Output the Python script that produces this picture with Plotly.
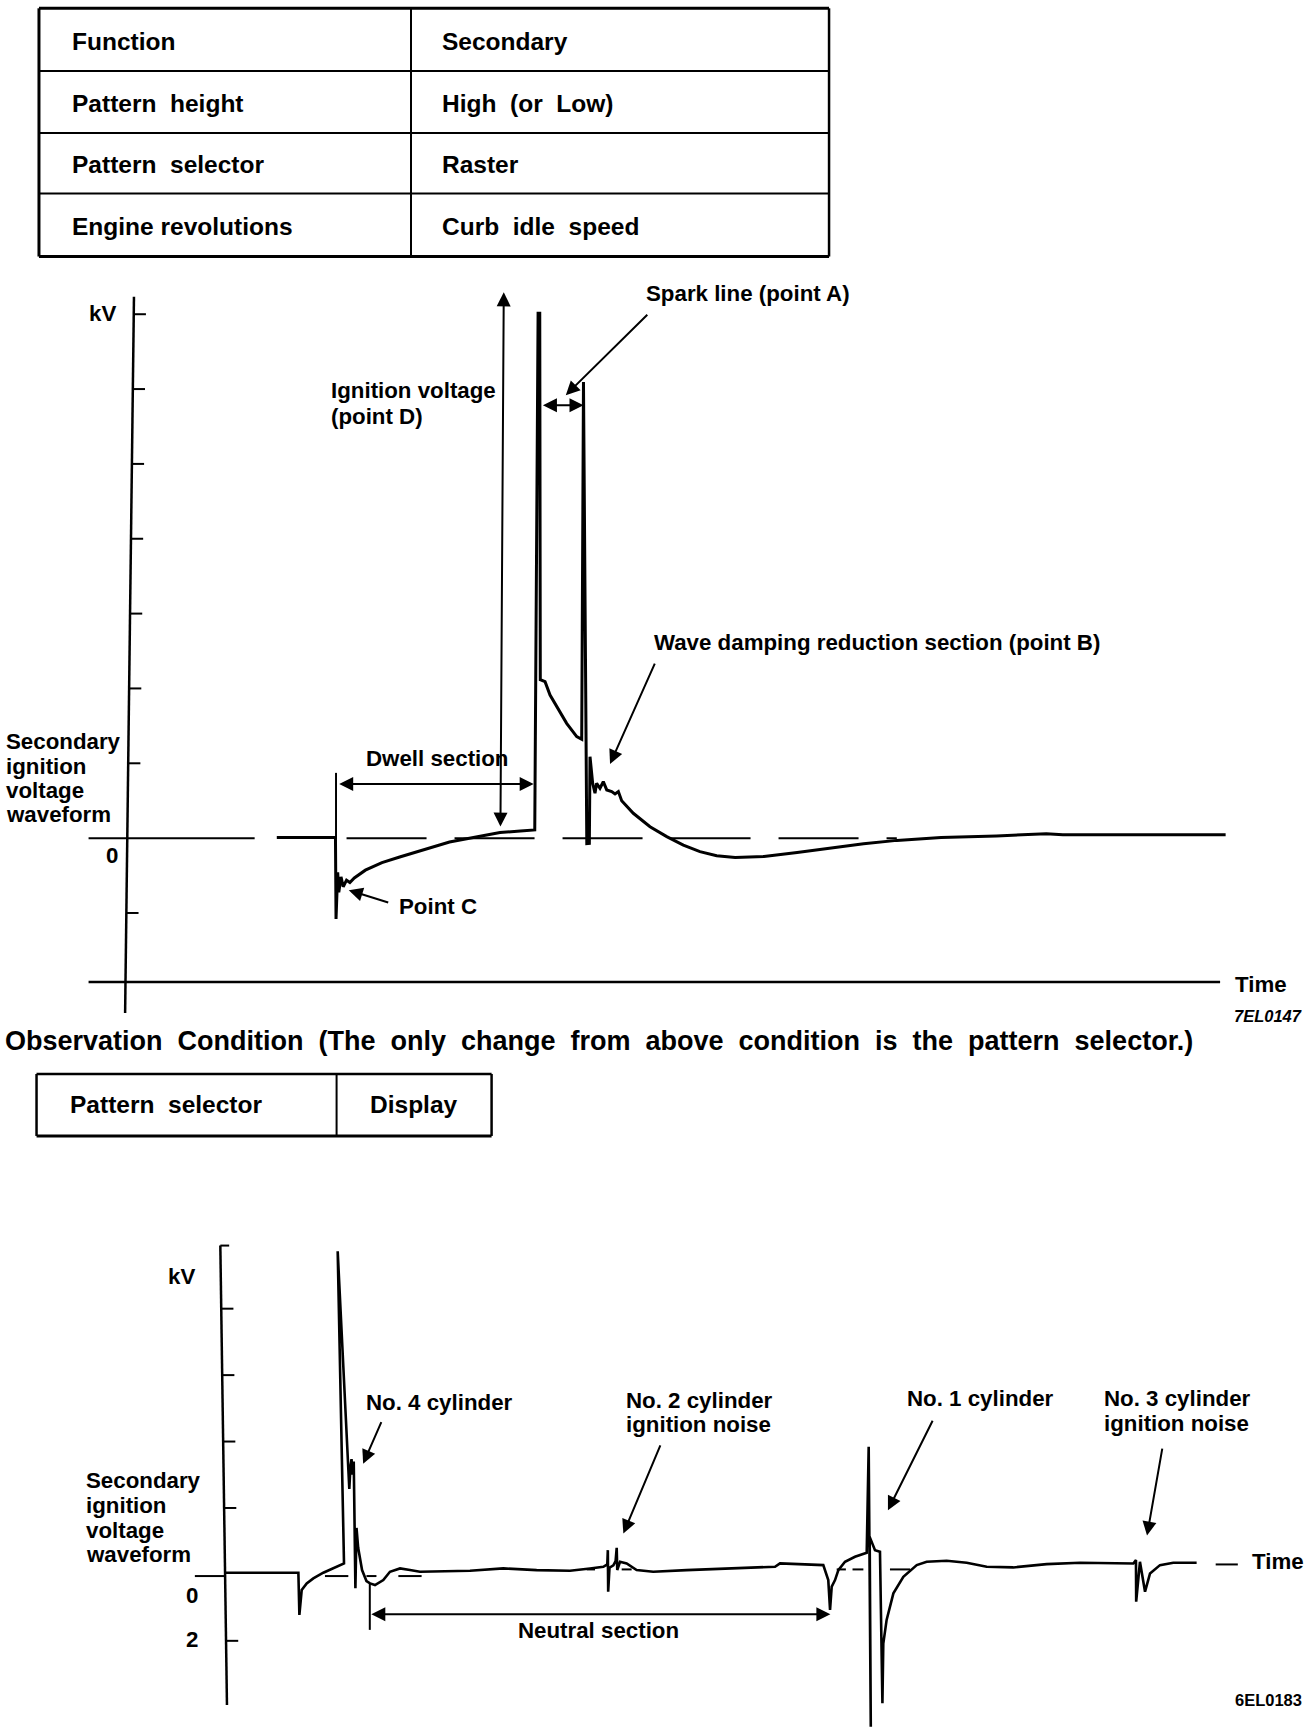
import plotly.graph_objects as go

W, H = 1312, 1736
K = W / 1185.0          # reference sheet units -> output px
SH = H / K              # sheet height in sheet units

# ---------------- data ----------------
cond_items = ["Function", "Pattern\u00a0 height", "Pattern\u00a0 selector", "Engine revolutions"]
cond_settings = ["Secondary", "High\u00a0 (or\u00a0 Low)", "Raster", "Curb\u00a0 idle\u00a0 speed"]
change_items = ["Pattern\u00a0 selector"]
change_settings = ["Display"]

# Raster pattern (secondary ignition voltage), time in ms, voltage in kV
raster_t = [13.0, 18.3, 18.35, 18.5, 18.6, 18.8, 19.0, 19.3, 19.6, 20.0, 21.0, 22.5, 24.1, 26.0,
            28.6, 31.0, 33.16, 35.0, 36.3, 36.6, 36.75, 36.8, 37.23, 37.68, 38.28, 39.18, 40.09,
            40.54, 40.7, 41.0, 41.23, 41.29, 41.53, 41.74, 41.89, 42.19, 42.49, 42.8, 43.25,
            43.55, 43.85, 44.15, 45.2, 46.71, 48.22, 49.72, 51.22, 52.73, 54.4, 57.0, 60.0, 63.0,
            66.0, 69.0, 73.0, 78.0, 82.5, 84.0, 98.7]
raster_kv = [0.05, 0.05, -5.4, -2.29, -3.62, -2.59, -3.25, -2.81, -2.96, -2.66, -2.14, -1.63,
             -1.26, -0.85, -0.26, 0.07, 0.37, 0.48, 0.55, 35.06, 35.06, 10.58, 10.45, 9.56, 8.78,
             7.67, 6.78, 6.60, 30.47, -0.37, -0.35, 5.44, 3.66, 3.0, 3.66, 3.33, 3.77, 3.22,
             3.11, 2.95, 3.11, 2.5, 1.66, 0.76, 0.1, -0.46, -0.9, -1.18, -1.29, -1.22, -0.96,
             -0.67, -0.37, -0.15, 0.04, 0.15, 0.3, 0.22, 0.22]
raster_tick_kv = [-5, 5, 10, 15, 20, 25, 30, 35]

# Display pattern (all cylinders), time in ms, voltage in kV
display_t = [0, 6.65, 6.74, 6.95, 7.4, 8.0, 8.9, 9.8, 10.77, 10.2, 11.16, 11.25, 11.35, 11.45,
             11.55, 11.65, 11.8, 11.9, 12.05, 12.4, 12.8, 13.12, 13.57, 14.32, 14.92, 15.83,
             16.73, 17.63, 22.15, 25.16, 28.17, 31.18, 32.99, 34.19, 34.55, 34.6, 34.63, 34.75,
             35.1, 35.3, 35.4, 35.45, 35.7, 36.3, 37.2, 38.7, 41.7, 45.7, 49.7, 50.15, 54.06,
             54.51, 54.67, 54.82, 55.12, 55.42, 56.02, 56.92, 57.98, 58.16, 58.35, 58.25, 58.73,
             59.18, 59.4, 59.48, 59.78, 60.39, 61.29, 62.5, 63.4, 65.2, 67.01, 68.82, 71.22,
             74.24, 77.25, 80.26, 82.06, 82.3, 82.32, 82.66, 83.12, 83.57, 84.47, 85.67, 87.78]
display_kv = [0.05, 0.05, -1.22, -0.47, -0.27, -0.12, 0.05, 0.18, 0.33, 9.73, 3.34, 2.57, 3.23,
              3.47, 3.0, 3.4, -0.42, 1.4, 0.8, 0.13, -0.2, -0.27, -0.32, -0.17, 0.08, 0.18,
              0.13, 0.08, 0.11, 0.18, 0.13, 0.11, 0.18, 0.23, 0.3, 0.73, -0.52, 0.2, 0.27, 0.4,
              0.8, 0.13, 0.38, 0.33, 0.13, 0.08, 0.13, 0.17, 0.23, 0.33, 0.28, -0.17, -1.07,
              -0.37, -0.17, 0.13, 0.38, 0.53, 0.65, 3.84, -4.59, 1.13, 0.73, 0.68, -3.88, -2.08,
              -1.37, -0.57, -0.07, 0.28, 0.38, 0.41, 0.35, 0.23, 0.21, 0.31, 0.35, 0.35, 0.33,
              0.43, -0.82, 0.38, -0.52, 0.03, 0.28, 0.35, 0.35]
display_tick_kv = [-2, 2, 4, 6, 8]
display_ticklabels_kv = [0, -2]
display_ticklabels = ["0", "2"]
# short zero-reference dashes on the display pattern (start ms, end ms, kV)
ref_dash_t0 = [9.05, 12.8, 15.68, 32.7, 35.85, 55.27, 56.7, 60.08, 89.5]
ref_dash_t1 = [11.16, 13.7, 17.78, 33.44, 36.75, 56.1, 57.68, 61.9, 91.5]
ref_dash_kv = [-0.05, -0.05, -0.05, 0.15, 0.15, 0.15, 0.15, 0.15, 0.3]

# ---------------- geometry (sheet units) ----------------
TOP_T0, TOP_PER_T, TOP_ZERO, TOP_PER_KV = 120.0, 10.0, 757.0, 13.52
BOT_T0, BOT_PER_T, BOT_ZERO, BOT_PER_KV = 203.0, 10.0, 1422.0, 30.0

LAB = "Liberation Sans"
BLACK = "black"

fig = go.Figure()


def line_trace(xs, ys, width=2.5, xa="x", ya="y", dash=None):
    ln = dict(color=BLACK, width=width)
    if dash:
        ln["dash"] = dash
    fig.add_trace(go.Scatter(x=xs, y=ys, mode="lines", line=ln, xaxis=xa, yaxis=ya,
                             hoverinfo="skip", showlegend=False))


# ---- top (raster) chart ----
ax_top_t = (0.1, -0.7)
ax_top_kv = ((TOP_ZERO - 268) / TOP_PER_KV, (TOP_ZERO - 915) / TOP_PER_KV)
line_trace(list(ax_top_t), list(ax_top_kv), 2.5)


def axis_t_at(kv, ta, kva):
    return ta[0] + (kv - kva[0]) / (kva[1] - kva[0]) * (ta[1] - ta[0])


tx, ty = [], []
for v in raster_tick_kv:
    a = axis_t_at(v, ax_top_t, ax_top_kv)
    tx += [a, a + 1.1, None]
    ty += [v, v, None]
line_trace(tx, ty, 2)
# time axis
line_trace([-4, 98.2], [(TOP_ZERO - 887) / TOP_PER_KV] * 2, 2.5)
# zero reference
line_trace([-4, 11], [0, 0], 2)
line_trace([19.3, 69.0], [0, 0], 2, dash="80px,28px")
# dwell start marker
line_trace([18.35, 18.35], [0, 4.36], 2)
# waveform
line_trace(raster_t, raster_kv, 3)

# ---- bottom (display) chart ----
ax_bot_t = (-0.4, 0.2)
ax_bot_kv = ((BOT_ZERO - 1125) / BOT_PER_KV, (BOT_ZERO - 1540) / BOT_PER_KV)
line_trace(list(ax_bot_t), list(ax_bot_kv), 2.5, "x2", "y2")
tx, ty = [], []
a = ax_bot_t[0]
tx += [a, a + 0.8, None]
ty += [ax_bot_kv[0], ax_bot_kv[0], None]
for v in display_tick_kv:
    a = axis_t_at(v, ax_bot_t, ax_bot_kv)
    tx += [a, a + 1.1, None]
    ty += [v, v, None]
line_trace(tx, ty, 2, "x2", "y2")
line_trace([-2.7, 0], [-0.05, -0.05], 2, "x2", "y2")
dx, dy = [], []
for a0, a1, v in zip(ref_dash_t0, ref_dash_t1, ref_dash_kv):
    dx += [a0, a1, None]
    dy += [v, v, None]
line_trace(dx, dy, 2, "x2", "y2")
line_trace([13.1, 13.1], [-0.27, -1.67], 2, "x2", "y2")
line_trace(display_t, display_kv, 2.6, "x2", "y2")

# ---------------- annotations ----------------
ann = []


def T(text, sx, sy, size=22.3, xanchor="left", bold=True, italic=False, family=LAB):
    ann.append(dict(text=text, x=sx / 1185.0, y=1 - sy / SH, xref="paper", yref="paper",
                    xanchor=xanchor, yanchor="middle", showarrow=False,
                    font=dict(family=family, size=size, color=BLACK,
                              weight="bold" if bold else "normal",
                              style="italic" if italic else "normal")))


def A(x, y, ax, ay, xr="x", yr="y", both=False):
    d = dict(x=x, y=y, ax=ax, ay=ay, xref=xr, yref=yr, axref=xr, ayref=yr, text="",
             showarrow=True, arrowhead=2, arrowsize=1.4, arrowwidth=2, arrowcolor=BLACK,
             standoff=0, startstandoff=0)
    if both:
        d.update(arrowside="end+start", startarrowhead=2, startarrowsize=1.4)
    ann.append(d)


# tables
shapes = []


def L(x0, y0, x1, y1, w=2.5):
    shapes.append(dict(type="line", xref="paper", yref="paper", x0=x0 / 1185.0, x1=x1 / 1185.0,
                       y0=1 - y0 / SH, y1=1 - y1 / SH, line=dict(color=BLACK, width=w)))


t1_left, t1_div, t1_right = 35.2, 371.2, 748.8
t1_rows = [7.5, 64.1, 120.1, 174.8, 231.7]
for i, yy in enumerate(t1_rows):
    L(t1_left, yy, t1_right, yy, 3 if i in (0, len(t1_rows) - 1) else 2)
L(t1_left, t1_rows[0], t1_left, t1_rows[-1], 3)
L(t1_div, t1_rows[0], t1_div, t1_rows[-1], 2)
L(t1_right, t1_rows[0], t1_right, t1_rows[-1], 2.5)
for i, (a_, b_) in enumerate(zip(cond_items, cond_settings)):
    yc = (t1_rows[i] + t1_rows[i + 1]) / 2 + 1.5
    T(a_, 63, yc, 24.5)
    T(b_, 397, yc, 24.5)

t2_left, t2_div, t2_right, t2_top, t2_bot = 33, 304, 444, 970, 1026
L(t2_left, t2_top, t2_right, t2_top, 2.5)
L(t2_left, t2_bot, t2_right, t2_bot, 3)
L(t2_left, t2_top, t2_left, t2_bot, 2.5)
L(t2_div, t2_top, t2_div, t2_bot, 2)
L(t2_right, t2_top, t2_right, t2_bot, 2.5)
for a_, b_ in zip(change_items, change_settings):
    T(a_, 61, 998, 24.5)
    T(b_, 332, 998, 24.5)

# top chart text
T("kV", 107, 283, xanchor="right")
T("0", 108, 773, xanchor="right")
for s, yy in zip(["Secondary", "ignition", "voltage", "waveform"], [670, 692, 714, 736]):
    T(s, 4, yy)
T("Ignition voltage", 297, 353)
T("(point D)", 297, 376)
T("Spark line (point A)", 582, 265)
T("Wave damping reduction section (point B)", 589, 580)
T("Dwell section", 329, 685)
T("Point C", 359, 819)
T("Time", 1114, 889)
T("7EL0147", 1178, 918, 16.5, xanchor="right", italic=True)
title = "Observation Condition (The only change from above condition is the pattern selector.)"
T(" \u00a0".join(title.split(" ")), 3, 940, 27)

# top chart arrows
A(33.5, 36.46, 33.2, 0.67, both=True)
A(39.1, 29.59, 46.6, 35.06)
A(40.7, 28.92, 36.9, 28.92, both=True)
A(43.1, 4.96, 47.2, 11.76)
A(36.2, 3.62, 18.5, 3.62, both=True)
A(19.5, -3.48, 23.2, -4.33)

# bottom chart text
T("kV", 178, 1153, xanchor="right")
for s, yy in zip(["Secondary", "ignition", "voltage", "waveform"], [1337, 1360, 1382, 1404]):
    T(s, 76, yy)
for v, s, yy in zip(display_ticklabels_kv, display_ticklabels, [1441, 1481]):
    T(s, 173, yy, xanchor="center")
T("No. 4 cylinder", 329, 1267)
T("No. 2 cylinder", 564, 1265)
T("ignition noise", 564, 1287)
T("No. 1 cylinder", 817, 1263)
T("No. 3 cylinder", 995, 1263)
T("ignition noise", 995, 1286)
T("Neutral section", 466, 1473)
T("Time", 1129, 1410)
T("6EL0183", 1178, 1535, 16.5, xanchor="right")

# bottom chart arrows
A(12.5, 3.33, 14.2, 4.63, "x2", "y2")
A(36.0, 1.23, 39.4, 3.93, "x2", "y2")
A(59.9, 1.93, 64.0, 4.67, "x2", "y2")
A(83.3, 1.17, 84.7, 3.83, "x2", "y2")
A(54.7, -1.2, 13.1, -1.2, "x2", "y2", both=True)

# ---------------- layout ----------------
fig.update_layout(
    width=W, height=H, autosize=False,
    margin=dict(l=0, r=0, t=0, b=0),
    paper_bgcolor="white", plot_bgcolor="rgba(0,0,0,0)",
    showlegend=False,
    xaxis=dict(domain=[0, 1], range=[-TOP_T0 / TOP_PER_T, (1185 - TOP_T0) / TOP_PER_T],
               visible=False, anchor="y"),
    yaxis=dict(domain=[0, 1], range=[(TOP_ZERO - SH) / TOP_PER_KV, TOP_ZERO / TOP_PER_KV],
               visible=False, anchor="x"),
    xaxis2=dict(domain=[0, 1], range=[-BOT_T0 / BOT_PER_T, (1185 - BOT_T0) / BOT_PER_T],
                visible=False, anchor="y2"),
    yaxis2=dict(domain=[0, 1], range=[(BOT_ZERO - SH) / BOT_PER_KV, BOT_ZERO / BOT_PER_KV],
                visible=False, anchor="x2"),
    annotations=ann,
    shapes=shapes,
)

fig.write_html("out.html", config={"displayModeBar": False},
               post_script="document.body.style.margin='0px';document.body.style.overflow='hidden';")
